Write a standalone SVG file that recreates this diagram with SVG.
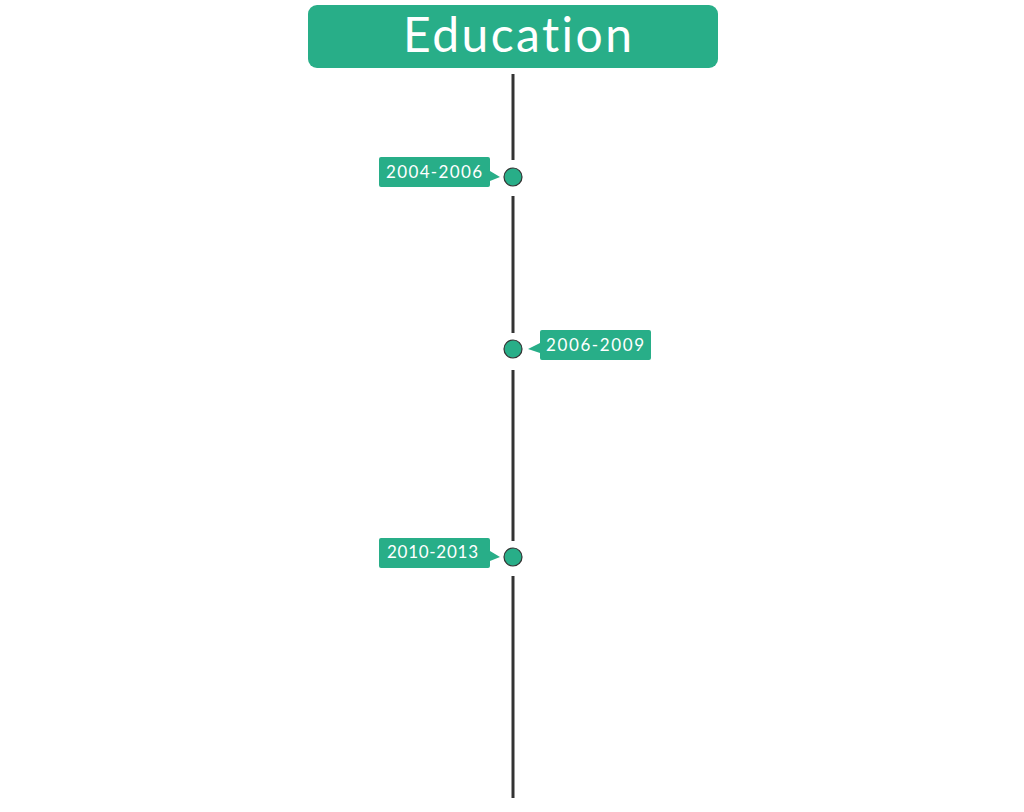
<svg xmlns="http://www.w3.org/2000/svg" width="1024" height="812" viewBox="0 0 1024 812">
<style>
.box{fill:#28ae88}
.line{stroke:#333;stroke-width:3;fill:none}
.dot{fill:#28ae88;stroke:#333;stroke-width:1.2}
.lbl{font-family:Lato,"Open Sans",sans-serif;font-size:17px;fill:#fff;font-variant-ligatures:none}
.title{font-family:Lato,"Open Sans",sans-serif;font-size:48px;fill:#fff;font-variant-ligatures:none}
</style>
<rect width="1024" height="812" fill="#fff"/>
<g id="connectors">
<line class="line" x1="513" y1="74" x2="513" y2="160"/>
<line class="line" x1="513" y1="196" x2="513" y2="333"/>
<line class="line" x1="513" y1="370" x2="513" y2="541"/>
<line class="line" x1="513" y1="576" x2="513" y2="798"/>
</g>
<g id="title">
<rect class="box" x="308" y="5" width="410" height="63" rx="9"/>
<text class="title" x="403" y="52" textLength="229" lengthAdjust="spacing">Education</text>
</g>
<g id="n1">
<path class="box" d="M381,157 H488 a2,2 0 0 1 2,2 V171 L500,177 L490,181 V185 a2,2 0 0 1 -2,2 H381 a2,2 0 0 1 -2,-2 V159 a2,2 0 0 1 2,-2 Z"/>
<text class="lbl" x="386" y="178" textLength="96" lengthAdjust="spacing">2004-2006</text>
<circle class="dot" cx="513" cy="177" r="9"/>
</g>
<g id="n2">
<path class="box" d="M542,330 H649 a2,2 0 0 1 2,2 V358 a2,2 0 0 1 -2,2 H542 a2,2 0 0 1 -2,-2 V353 L528,349 L540,343 V332 a2,2 0 0 1 2,-2 Z"/>
<text class="lbl" x="546" y="351" textLength="98" lengthAdjust="spacing">2006-2009</text>
<circle class="dot" cx="513" cy="349" r="9"/>
</g>
<g id="n3">
<path class="box" d="M381,538 H488 a2,2 0 0 1 2,2 V551 L500,557 L490,561 V566 a2,2 0 0 1 -2,2 H381 a2,2 0 0 1 -2,-2 V540 a2,2 0 0 1 2,-2 Z"/>
<text class="lbl" x="387" y="558" textLength="91" lengthAdjust="spacing">2010-2013</text>
<circle class="dot" cx="513" cy="557" r="9"/>
</g>
</svg>
